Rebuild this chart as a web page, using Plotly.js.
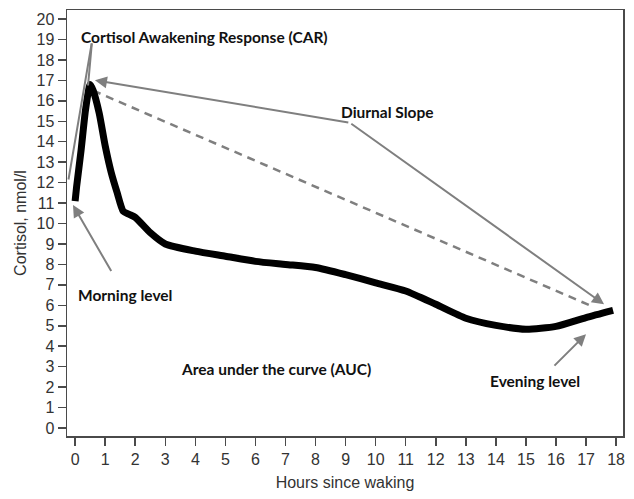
<!DOCTYPE html>
<html>
<head>
<meta charset="utf-8">
<script src="https://cdn.plot.ly/plotly-3.0.1.min.js"></script>
<style>html,body{margin:0;padding:0;background:#fff;}#chart{width:634px;height:499px;}</style>
</head>
<body>
<div id="chart"></div>
<script>
// Cortisol curve (hours since waking vs nmol/l)
const hours = [0, 0.05, 0.2, 0.35, 0.5, 0.6, 0.8, 1.0, 1.2, 1.4, 1.6, 1.8, 2.0, 2.5, 3, 4, 5, 6, 7, 8, 9, 10, 11, 12, 13, 14, 15, 16, 17, 17.9];
const cortisol = [11.1, 11.8, 13.6, 15.6, 16.8, 16.5, 15.4, 13.8, 12.5, 11.5, 10.6, 10.45, 10.3, 9.55, 9.0, 8.65, 8.4, 8.15, 8.0, 7.85, 7.5, 7.1, 6.7, 6.05, 5.37, 5.02, 4.83, 4.97, 5.4, 5.75];

// Dashed diurnal slope line (peak to evening)
const slopeX = [0.6, 17.2];
const slopeY = [16.5, 5.95];

// Tick values
const xTicks = [0,1,2,3,4,5,6,7,8,9,10,11,12,13,14,15,16,17,18];
const yTicks = [0,1,2,3,4,5,6,7,8,9,10,11,12,13,14,15,16,17,18,19,20];

// Annotation labels and positions
const labelText = ["Cortisol Awakening Response (CAR)", "Diurnal Slope", "Morning level", "Area under the curve (AUC)", "Evening level"];
const labelX = [4.3, 10.4, 1.66, 6.7, 15.3];
const labelY = [19.1, 15.46, 6.49, 2.88, 2.29];

// Pointer lines: [tailX, tailY, headX, headY, hasArrowHead]
const pointers = [
  [0.56, 18.88, 0.43, 16.75, 0],
  [0.56, 18.88, -0.22, 12.15, 0],
  [9.14, 14.93, 0.66, 17.0, 1],
  [9.14, 14.93, 17.6, 6.05, 1],
  [1.23, 7.6, -0.07, 10.9, 1],
  [15.9, 2.98, 17.0, 4.59, 1]
];

const gray = '#7f7f7f';
const labelFont = {family: 'Lato, "Open Sans", sans-serif', size: 15.5, color: '#111', weight: 'bold'};
const axisFont = '"Liberation Sans", Arial, sans-serif';

const annotations = labelText.map((t, i) => ({
  x: labelX[i], y: labelY[i], xref: 'x', yref: 'y', text: '<b>' + t + '</b>',
  showarrow: false, font: labelFont, xanchor: 'center', yanchor: 'middle'
}));
pointers.forEach(p => {
  annotations.push({
    x: p[2], y: p[3], ax: p[0], ay: p[1], xref: 'x', yref: 'y', axref: 'x', ayref: 'y',
    text: '', showarrow: true, arrowhead: p[4] ? 2 : 0, arrowsize: 1.2, arrowwidth: 2,
    arrowcolor: gray, standoff: 0, startstandoff: 0
  });
});

const traces = [
  {x: slopeX, y: slopeY, mode: 'lines', line: {color: gray, width: 2.5, dash: '8px,6px'}, hoverinfo: 'skip'},
  {x: hours, y: cortisol, mode: 'lines', line: {color: '#000', width: 7, shape: 'spline', smoothing: 0.6}, hoverinfo: 'skip'}
];

const axisCommon = {
  showgrid: false, zeroline: false, showline: true, mirror: true,
  linecolor: '#4a4a4a', linewidth: 1.5, ticks: 'outside', ticklen: 8, tickwidth: 1.5, tickcolor: '#4a4a4a',
  tickfont: {family: axisFont, size: 16, color: '#333'}
};

const layout = {
  width: 634, height: 499,
  margin: {l: 67, r: 11, t: 10, b: 63},
  paper_bgcolor: '#fff', plot_bgcolor: '#fff',
  showlegend: false,
  xaxis: Object.assign({}, axisCommon, {
    range: [-0.27, 18.23], tickvals: xTicks, ticktext: xTicks.map(String),
    title: {text: 'Hours since waking', font: {family: axisFont, size: 16, color: '#333'}, standoff: 10}
  }),
  yaxis: Object.assign({}, axisCommon, {
    range: [-0.39, 20.44], tickvals: yTicks, ticktext: yTicks.map(String),
    title: {text: 'Cortisol, nmol/l', font: {family: axisFont, size: 16, color: '#333'}, standoff: 6}
  }),
  annotations: annotations
};

Plotly.newPlot('chart', traces, layout, {displayModeBar: false, staticPlot: true});
</script>
</body>
</html>
